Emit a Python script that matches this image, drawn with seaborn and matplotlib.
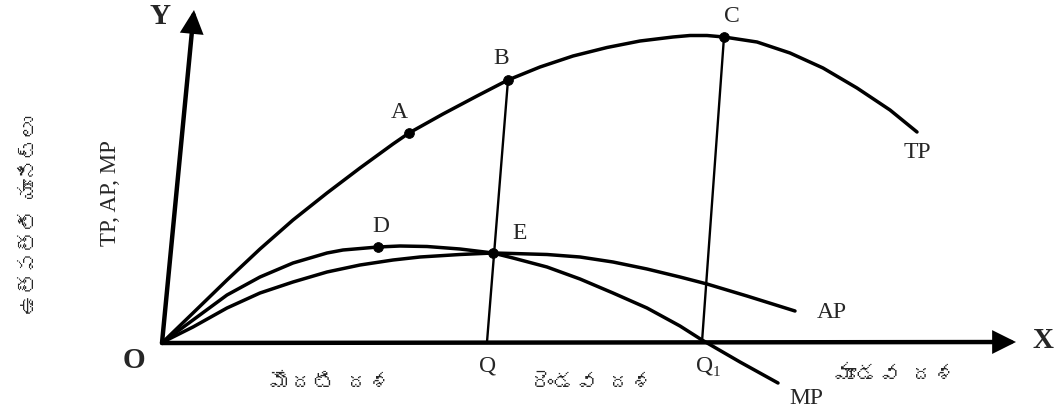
import matplotlib
matplotlib.use("Agg")
import matplotlib.pyplot as plt
import seaborn as sns
from matplotlib import font_manager
from fontTools.ttLib import TTFont

# points, in pixel units (x right, y down)
tp_x = [163, 193, 227, 260, 293, 327, 360, 393, 409, 443, 477, 508, 540, 573, 607, 640,
        673, 690, 707, 724, 757, 790, 823, 857, 890, 917]
tp_y = [342, 313, 280, 249, 220, 193, 168, 144, 133, 114, 96, 80, 67, 56, 47.5, 41,
        37, 35.5, 35.5, 37, 42, 53, 68, 88, 110, 132]

ap_x = [163, 193, 227, 260, 293, 327, 360, 393, 420, 460, 493, 513, 547, 580, 613, 647,
        680, 707, 747, 795]
ap_y = [342, 327, 308, 293, 282, 272, 265, 260, 257, 254.5, 253, 253.5, 254.5, 257, 262, 269,
        277, 284, 296, 311]

mp_x = [163, 193, 227, 260, 293, 327, 343, 378, 400, 427, 460, 493, 513, 547, 580, 613,
        647, 680, 702, 740, 778]
mp_y = [342, 320, 295, 277, 263, 253, 250, 247, 246, 246.5, 249, 253, 258, 267, 279, 293,
        308, 326, 340, 362, 383]

point_names = ["A", "B", "C", "D", "E"]
point_x = [409, 508, 724, 378, 493]
point_y = [133, 80, 37, 247, 253]

# verticals from B and C down to Q and Q1
drop_x = [[508, 487], [724, 702]]
drop_y = [[80, 342], [37, 342]]

origin = (162, 343)
y_tip = (194, 10)
x_tip = (1016, 342)

stage_labels = ["మొదటి దశ", "రెండవ దశ", "మూడవ దశ"]
y_title = "ఉత్పత్తి యూనిట్లు"


def telugu_font():
    for f in font_manager.fontManager.ttflist:
        try:
            cmap = TTFont(f.fname, fontNumber=0, lazy=True).getBestCmap()
            if cmap and 0x0C24 in cmap:
                return f.name
        except Exception:
            pass
    return "DejaVu Sans"


tel = telugu_font()
sns.set_style("white")
serif = ["Liberation Serif", "DejaVu Serif"]

fig = plt.figure(figsize=(10.6, 4.12), dpi=100)
ax = fig.add_axes([0, 0, 1, 1])
ax.set_xlim(0, 1060)
ax.set_ylim(412, 0)
ax.axis("off")

# axes with arrows
for tip in (y_tip, x_tip):
    ax.annotate("", xy=tip, xytext=origin,
                arrowprops=dict(arrowstyle="-|>", lw=3.2, color="black", mutation_scale=30,
                                shrinkA=0, shrinkB=0, joinstyle="miter"))

for cx, cy in [(tp_x, tp_y), (ap_x, ap_y), (mp_x, mp_y)]:
    sns.lineplot(x=cx, y=cy, sort=False, estimator=None, color="black", lw=2.5, ax=ax)
for dx, dy in zip(drop_x, drop_y):
    sns.lineplot(x=dx, y=dy, sort=False, estimator=None, color="black", lw=1.7, ax=ax)

sns.scatterplot(x=point_x, y=point_y, color="black", s=50, edgecolor="black", zorder=5, ax=ax)

# point labels
offsets = {"A": (-10, -21), "B": (-7, -22), "C": (8, -21), "D": (3, -21), "E": (27, -20)}
for n, px, py in zip(point_names, point_x, point_y):
    ox, oy = offsets[n]
    ax.text(px + ox, py + oy, n, fontsize=17, family=serif, ha="center", va="center")

ax.text(917, 153, "TP", fontsize=17, family=serif, ha="center", va="center")
ax.text(832, 312, "AP", fontsize=17, family=serif, ha="center", va="center")
ax.text(806, 399, "MP", fontsize=17, family=serif, ha="center", va="center")
ax.text(488, 366, "Q", fontsize=17, family=serif, ha="center", va="center")
ax.text(705, 366, "Q", fontsize=17, family=serif, ha="center", va="center")
ax.text(716, 372, "1", fontsize=11, family=serif, ha="center", va="center")

ax.text(160, 16, "Y", fontsize=21, family=serif, weight="bold", ha="center", va="center")
ax.text(1043, 340, "X", fontsize=21, family=serif, weight="bold", ha="center", va="center")
ax.text(134, 360, "O", fontsize=21, family=serif, weight="bold", ha="center", va="center")

ax.text(111, 193, "TP, AP, MP", fontsize=16.5, family=serif, rotation=90, ha="center", va="center")
ax.text(30, 215, y_title, fontsize=15, family=[tel, "DejaVu Sans"], rotation=90, ha="center", va="center")

for lab, lx, ly in zip(stage_labels, [330, 592, 895], [383, 383, 375]):
    ax.text(lx, ly, lab, fontsize=16, family=[tel, "DejaVu Sans"], ha="center", va="center")

fig.savefig("out.png", dpi=100, facecolor="white")
